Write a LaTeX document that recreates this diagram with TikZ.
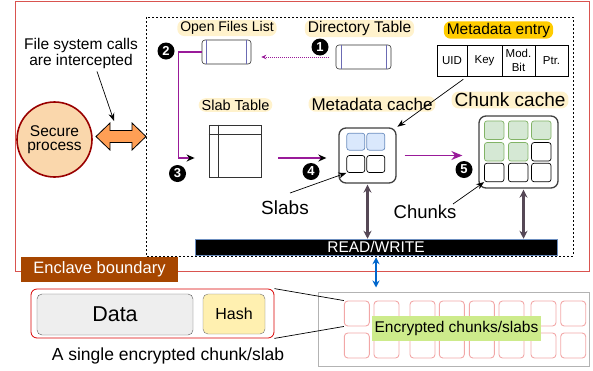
\documentclass[tikz,border=0pt]{standalone}
\usepackage{fontspec}
\setmainfont{Liberation Sans}
\usetikzlibrary{arrows.meta,calc}

\definecolor{enclred}{HTML}{D9534F}
\definecolor{enclbrown}{HTML}{A64600}
\definecolor{paleyel}{HTML}{FFF2CC}
\definecolor{goldtag}{HTML}{FFCC00}
\definecolor{peach}{HTML}{FAD7AC}
\definecolor{darkred}{HTML}{990000}
\definecolor{orangearr}{HTML}{FF9F55}
\definecolor{flowpurple}{HTML}{991A99}
\definecolor{iogray}{HTML}{564856}
\definecolor{ioblue}{HTML}{0066CC}
\definecolor{cellblue}{HTML}{DAE8FC}
\definecolor{cellblueline}{HTML}{6C8EBF}
\definecolor{cellgreen}{HTML}{D5E8D4}
\definecolor{cellgreenline}{HTML}{82B366}
\definecolor{storecell}{HTML}{F2A7A7}
\definecolor{storeline}{HTML}{B3B3B3}
\definecolor{enclabel}{HTML}{CDEB8B}
\definecolor{datagray}{HTML}{EEEEEE}
\definecolor{hashyel}{HTML}{FFF0B0}
\definecolor{fileline}{HTML}{6B6BB3}

\tikzset{
  fs/.style={font=\fontsize{#1}{#1}\selectfont},
  tag/.style={fill=paleyel, rounded corners=7pt, inner xsep=3pt, inner ysep=1.5pt},
  num/.style={circle, fill=black, text=white, inner sep=0pt, minimum size=17pt,
    font=\fontsize{13}{13}\selectfont\bfseries},
  filerec/.style={draw=black!80, rounded corners=3pt, minimum height=24pt,
    inner sep=0pt, line width=0.6pt},
  fileinner/.style={fileline, line width=0.6pt},
  cachebox/.style={draw=black!75, line width=1.3pt, rounded corners=7pt, fill=white, inner sep=0pt},
  mcell/.style={draw=black, fill=white, rounded corners=2.5pt, line width=0.7pt,
    minimum width=18pt, minimum height=17pt, inner sep=0pt},
  ccell/.style={draw=black, fill=white, rounded corners=2.5pt, line width=0.7pt,
    minimum width=19.5pt, minimum height=18.5pt, inner sep=0pt},
  bluecell/.style={fill=cellblue, draw=cellblueline},
  greencell/.style={fill=cellgreen, draw=cellgreenline},
  tcell/.style={draw=black, line width=0.7pt, minimum height=31pt, inner sep=0pt,
    align=center, font=\fontsize{11.5}{14}\selectfont},
  scell/.style={draw=storecell, rounded corners=3.5pt, minimum width=25pt,
    minimum height=25pt, line width=0.9pt, inner sep=0pt},
  lbl/.style={inner sep=1pt},
  lblarrow/.style={black, line width=0.7pt, -{Stealth[length=8pt,width=6pt]}},
  flow/.style={flowpurple, line width=1.4pt},
  ioarrow/.style={iogray, line width=2.3pt,
    {Stealth[length=8pt,width=8pt]}-{Stealth[length=8pt,width=8pt]}},
}

\begin{document}
\begin{tikzpicture}[x=1pt,y=-1pt]
\useasboundingbox (0,0) rectangle (593,370);

% enclave region and the trusted file system region
\draw[enclred, line width=1pt] (15,1) rectangle (589,271);
\draw[black, line width=0.7pt, dash pattern=on 2pt off 2pt] (146,17) rectangle (573,256);
\node[fill=enclbrown, text=white, minimum width=157pt, minimum height=25pt,
  inner sep=0pt, fs=16.5] (enclabel) at (99.5,269.5) {Enclave boundary};

% secure process and intercepted calls
\node[circle, draw=darkred, line width=1.6pt, fill=peach, minimum size=75pt,
  inner sep=0pt, align=center, font=\fontsize{15.5}{14.5}\selectfont] (sp) at (54.5,139.5) {Secure\\process};
\draw[fill=orangearr, draw=black, line width=0.8pt]
  (96,136.5) -- (110,123) -- (110,130.5) -- (132,130.5) -- (132,123) -- (146,136.5)
  -- (132,150) -- (132,142.5) -- (110,142.5) -- (110,150) -- cycle;
\coordinate (dtop) at (114,121);
\node[lbl, align=center, font=\fontsize{15.5}{16}\selectfont] (fsc) at (81,53)
  {File system calls\\are intercepted};
\draw[lblarrow] ($(fsc.south)+(16,2)$) -- (dtop);

% open files list and directory table
\node[tag, fs=14] (oflt) at (227,28) {Open Files List};
\node[filerec, minimum width=49pt] (ofl) at (226.5,52) {};
\draw[fileinner] ($(ofl.north west)+(5,0)$) -- ($(ofl.south west)+(5,0)$);
\draw[fileinner] ($(ofl.north east)+(-5,0)$) -- ($(ofl.south east)+(-5,0)$);

\node[tag, fs=15.5] (dirt) at (359.5,28.5) {Directory Table};
\node[filerec, minimum width=55pt] (dir) at (363.5,57) {};
\draw[fileinner] ($(dir.north west)+(5.5,0)$) -- ($(dir.south west)+(5.5,0)$);
\draw[fileinner] ($(dir.north east)+(-5.5,0)$) -- ($(dir.south east)+(-5.5,0)$);

% metadata entry layout
\node[tag, fill=goldtag, fs=15.5] (met) at (498.5,30) {Metadata entry};
\node[tcell, minimum width=30pt] (t1) at (452,60.5) {UID};
\node[tcell, minimum width=35pt] (t2) at (484.5,60.5) {Key};
\node[tcell, minimum width=33pt] (t3) at (518.5,60.5) {Mod.\\Bit};
\node[tcell, minimum width=33pt] (t4) at (551.5,60.5) {Ptr.};

% slab table
\node[tag, fs=14.5] (slabt) at (235.5,105) {Slab Table};
\node[draw=black!80, line width=0.8pt, minimum width=52pt, minimum height=52pt,
  inner sep=0pt] (slab) at (235,151) {};
\draw[black!80, line width=0.8pt] ($(slab.north west)+(0,10)$) -- ($(slab.north east)+(0,10)$);
\draw[black!80, line width=0.8pt] ($(slab.north west)+(10,0)$) -- ($(slab.south west)+(10,0)$);

% metadata cache
\node[tag, fs=17] (mct) at (372,104) {Metadata cache};
\node[cachebox, minimum width=57pt, minimum height=55pt] (mc) at (367.5,155.5) {};
\node[mcell, bluecell] (m11) at (355.8,141.7) {};
\node[mcell, bluecell] (m12) at (375.8,141.7) {};
\node[mcell] (m21) at (355.8,164) {};
\node[mcell] (m22) at (375.8,164) {};

% chunk cache
\node[tag, fs=19] (cct) at (510,100) {Chunk cache};
\node[cachebox, minimum width=79pt, minimum height=72pt] (cc) at (518.5,152) {};
\node[ccell, greencell] (c11) at (494.2,130.2) {};
\node[ccell, greencell] (c12) at (518.2,130.2) {};
\node[ccell, greencell] (c13) at (541.3,130.2) {};
\node[ccell, greencell] (c21) at (494.2,151.8) {};
\node[ccell, greencell] (c22) at (518.2,151.8) {};
\node[ccell] (c23) at (541.3,151.8) {};
\node[ccell] (c31) at (494.2,172.5) {};
\node[ccell] (c32) at (518.2,172.5) {};
\node[ccell] (c33) at (541.3,172.5) {};

% step numbers
\node[num] (n1) at (320,47) {1};
\node[num] (n2) at (166,51) {2};
\node[num] (n3) at (177.5,173.5) {3};
\node[num] (n4) at (311,171.5) {4};
\node[num] (n5) at (464,169.5) {5};

% lookup flow
\draw[flowpurple, line width=0.9pt, dash pattern=on 1pt off 1pt,
  -{Stealth[length=5pt,width=4.5pt]}, shorten <=7pt, shorten >=10pt]
  (dir.west) -- (dir.west -| ofl.east);
\coordinate (s3) at ($(slab.west)+(-14,7)$);
\draw[flow, -{Stealth[color=black,length=8pt,width=7pt]}]
  (ofl.west) -- ++(-23,0) |- (s3);
\coordinate (s4) at ($(slab.east)+(0,7)$);
\draw[flow, -{Stealth[color=black,length=8pt,width=7pt]}, shorten <=17pt, shorten >=12pt]
  (s4) -- (s4 -| mc.west);
\draw[flow, -{Stealth[length=11pt,width=9pt]}, shorten <=8pt, shorten >=16pt]
  (mc.east) -- (mc.east -| cc.west);

% entry pointer
\draw[lblarrow, shorten <=5pt, shorten >=1pt] (t1.south east) -- (mc.north east);

% slabs and chunks labels
\node[lbl, fs=19] (slabs) at (285,208) {Slabs};
\draw[lblarrow] ($(slabs.center)+(5,-15)$) -- (m21.south west);
\node[lbl, fs=18.5] (chunks) at (425,212) {Chunks};
\draw[lblarrow] ($(chunks.center)+(28,-8)$) -- (c31.south west);

% read/write path
\node[fill=black, draw=cellblueline, line width=0.5pt, minimum width=362pt,
  minimum height=16pt, inner sep=0pt, text=white, fs=15.5] (rw) at (376,247) {READ/WRITE};
\draw[ioarrow, shorten <=1pt] (mc.south) -- (mc.south |- rw.north);
\coordinate (ccio) at ($(cc.south)+(5,0)$);
\draw[ioarrow, shorten <=1pt] (ccio) -- (ccio |- rw.north);

% untrusted storage
\node[draw=storeline, line width=1pt, minimum width=271pt, minimum height=74pt,
  inner sep=0pt] (st) at (453.5,329) {};
\foreach \x [count=\i] in {356.8,386.5,422.5,451.8,481.8,511.5,543.5,573.2} {
  \node[scell] (sa\i) at (\x,313.5) {};
  \node[scell] (sb\i) at (\x,345.5) {};
}
\node[fill=enclabel, minimum width=169pt, minimum height=25pt, inner sep=0pt,
  fs=15.5] (enctag) at (456.5,328.5) {Encrypted chunks/slabs};
\draw[ioblue, line width=2.2pt,
  {Stealth[length=7pt,width=7pt]}-{Stealth[length=7pt,width=7pt]},
  shorten <=2pt, shorten >=4pt] (rw.south) -- (rw.south |- st.north);

% layout of one encrypted chunk
\node[draw=red!85!black, rounded corners=6pt, minimum width=243pt, minimum height=49pt,
  line width=0.8pt, inner sep=0pt] (one) at (152.5,313.5) {};
\node[draw=black!65, fill=datagray, rounded corners=5pt, minimum width=156pt,
  minimum height=41pt, inner sep=0pt, fs=21.5] (data) at (115,314.5) {Data};
\node[draw=black!55, fill=hashyel, rounded corners=5pt, minimum width=62pt,
  minimum height=40pt, inner sep=0pt, fs=16] (hash) at (234,314) {Hash};
\node[lbl, fs=17.5] (onelbl) at (168,355.5) {A single encrypted chunk/slab};
\draw[black, line width=0.7pt] (one.north east) -- (sa1.north west);
\draw[black, line width=0.7pt] (one.south east) -- (sa1.south west);
\end{tikzpicture}
\end{document}
